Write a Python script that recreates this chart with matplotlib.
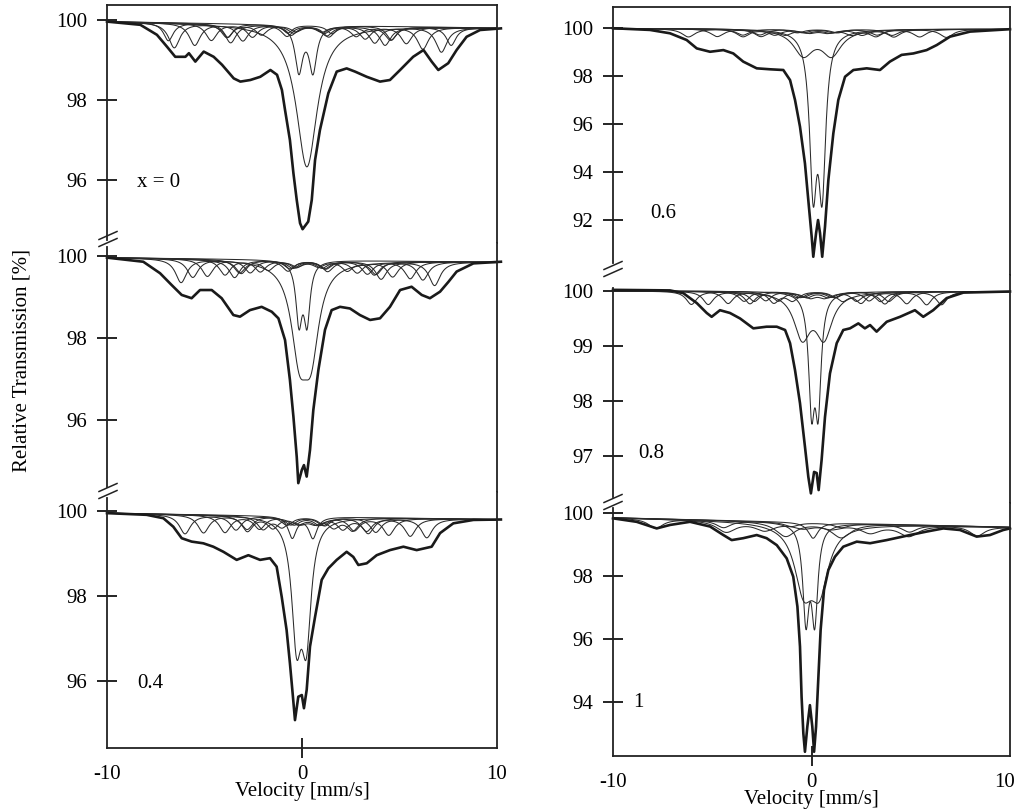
import numpy as np
import matplotlib
matplotlib.use("Agg")
import matplotlib.pyplot as plt
from matplotlib.lines import Line2D
from matplotlib.transforms import ScaledTranslation

plt.rcParams['font.family'] = ['Liberation Serif', 'DejaVu Serif']
plt.rcParams['font.size'] = 15

A_env_v = [-10, -8.29, -7.44, -6.92, -6.5, -5.98, -5.8, -5.47, -5.04, -4.53, -4.1, -3.5, -3.16,
           -2.65, -2.14, -1.62, -1.28, -1.03, -0.87, -0.62, -0.44, -0.27, -0.1, 0.03, 0.32, 0.5,
           0.67, 0.92, 1.35, 1.78, 2.29, 2.72, 3.32, 4.0, 4.51, 5.03, 5.7, 6.23, 6.65, 6.99, 7.5,
           7.93, 8.44, 9.13, 10.2]
A_env_t = [99.96, 99.88, 99.63, 99.33, 99.08, 99.08, 99.17, 98.96, 99.21, 99.08, 98.88, 98.54,
           98.46, 98.5, 98.58, 98.75, 98.63, 98.25, 97.75, 97.0, 96.17, 95.5, 94.92, 94.77, 94.96,
           95.5, 96.5, 97.25, 98.17, 98.71, 98.79, 98.71, 98.58, 98.46, 98.5, 98.75, 99.08, 99.25,
           98.96, 98.75, 98.92, 99.25, 99.58, 99.75, 99.79]

B_env_v = [-10, -8.14, -7.28, -6.68, -6.17, -5.66, -5.23, -4.63, -4.12, -3.52, -3.18, -2.67, -2.07,
           -1.55, -1.21, -0.87, -0.62, -0.44, -0.27, -0.19, -0.01, 0.1, 0.24, 0.41, 0.58, 0.84,
           1.18, 1.52, 1.95, 2.46, 2.97, 3.49, 4.0, 4.51, 5.03, 5.62, 6.14, 6.56, 7.08, 7.51, 7.93,
           8.79, 10.2]
B_env_t = [99.96, 99.86, 99.58, 99.29, 99.05, 98.97, 99.17, 99.17, 98.97, 98.56, 98.52, 98.68,
           98.76, 98.64, 98.48, 97.95, 96.98, 96.08, 95.1, 94.46, 94.78, 94.9, 94.62, 95.27, 96.24,
           97.22, 98.2, 98.68, 98.76, 98.72, 98.56, 98.44, 98.48, 98.76, 99.17, 99.25, 99.05,
           98.97, 99.13, 99.37, 99.62, 99.82, 99.86]

C_env_v = [-10, -7.97, -7.11, -6.6, -6.17, -5.66, -5.06, -4.55, -4.03, -3.35, -2.75, -2.15, -1.64,
           -1.3, -1.04, -0.79, -0.62, -0.48, -0.36, -0.19, -0.01, 0.1, 0.24, 0.41, 0.67, 1.01, 1.35,
           1.78, 2.29, 2.63, 2.89, 3.32, 3.83, 4.51, 5.2, 5.88, 6.65, 7.08, 7.76, 8.79, 10.2]
C_env_t = [99.95, 99.91, 99.83, 99.63, 99.36, 99.28, 99.24, 99.16, 99.04, 98.85, 98.96, 98.85,
           98.89, 98.69, 97.98, 97.2, 96.42, 95.71, 95.08, 95.63, 95.67, 95.36, 95.79, 96.81,
           97.51, 98.38, 98.65, 98.85, 99.04, 98.92, 98.73, 98.77, 98.96, 99.08, 99.16, 99.08,
           99.16, 99.48, 99.71, 99.79, 99.8]

D_env_v = [-10, -8.14, -7.13, -6.29, -5.78, -5.11, -4.44, -3.94, -3.44, -2.76, -2.09, -1.42, -1.08,
           -0.83, -0.58, -0.33, -0.13, 0.01, 0.09, 0.23, 0.33, 0.43, 0.54, 0.68, 0.85, 1.1, 1.35,
           1.69, 2.11, 2.78, 3.45, 3.95, 4.54, 5.13, 5.8, 6.31, 6.98, 7.99, 10.0]
D_env_t = [99.99, 99.92, 99.78, 99.5, 99.15, 99.01, 99.08, 98.94, 98.6, 98.32, 98.28, 98.25, 97.83,
           97.0, 95.89, 94.36, 92.55, 91.3, 90.47, 91.45, 92.0, 91.45, 90.47, 91.72, 93.67, 95.61,
           97.0, 97.97, 98.25, 98.32, 98.25, 98.6, 98.88, 98.94, 99.08, 99.29, 99.64, 99.85, 99.95]

E_env_v = [-10, -7.13, -6.46, -5.78, -5.28, -5.03, -4.61, -4.11, -3.6, -2.93, -2.26, -1.75, -1.33,
           -1.08, -0.83, -0.58, -0.33, -0.16, -0.03, 0.13, 0.26, 0.36, 0.51, 0.68, 0.93, 1.27, 1.6,
           1.94, 2.36, 2.69, 2.95, 3.28, 3.79, 4.46, 5.21, 5.63, 6.13, 6.81, 7.65, 10.0]
E_env_t = [100.02, 100.01, 99.96, 99.78, 99.6, 99.53, 99.65, 99.6, 99.5, 99.32, 99.35, 99.35, 99.29,
           99.05, 98.56, 97.96, 97.17, 96.62, 96.32, 96.71, 96.69, 96.38, 96.93, 97.71, 98.5,
           99.05, 99.29, 99.32, 99.41, 99.32, 99.38, 99.26, 99.44, 99.53, 99.65, 99.53, 99.65,
           99.87, 99.97, 99.99]

F_env_v = [-10, -8.81, -7.8, -7.13, -6.12, -5.11, -4.44, -4.02, -3.44, -2.76, -2.26, -1.75, -1.25,
           -0.92, -0.71, -0.58, -0.5, -0.41, -0.33, -0.21, -0.08, 0.04, 0.13, 0.23, 0.34, 0.46,
           0.63, 0.85, 1.18, 1.6, 2.28, 2.95, 3.79, 4.96, 5.8, 6.64, 7.48, 8.32, 8.99, 9.66, 10.0]
F_env_t = [99.83, 99.72, 99.51, 99.62, 99.72, 99.57, 99.3, 99.14, 99.2, 99.3, 99.2, 98.98, 98.56,
           97.98, 97.03, 95.76, 94.17, 93.0, 92.42, 93.22, 93.9, 93.22, 92.42, 93.22, 94.7, 96.29,
           97.56, 98.19, 98.61, 98.93, 99.09, 99.04, 99.14, 99.3, 99.41, 99.51, 99.46, 99.25,
           99.3, 99.46, 99.51]

# ---- fitted sub-spectra: baseline (at -10, +10), singlets (centre, depth, width),
#      doublets (centre, splitting, depth, width), sextets (shift, half split, depth, width)
A_base = [99.96, 99.80]
A_singlets = [(0.25, 3.55, 1.3)]
A_doublets = [(0.20, 0.72, 1.14, 0.47)]
A_sextets = [(0.30, 6.85, 0.62, 0.7), (0.35, 5.85, 0.55, 0.7), (0.35, 5.00, 0.42, 0.7),
             (0.35, 4.20, 0.34, 0.7), (0.40, 7.25, 0.45, 0.6)]

B_base = [99.96, 99.85]
B_singlets = []
B_doublets = [(0.16, 0.60, 1.99, 1.0), (0.05, 0.41, 1.45, 0.38)]
B_sextets = [(0.30, 6.5, 0.58, 0.7), (0.30, 5.9, 0.45, 0.7), (0.35, 5.2, 0.42, 0.7),
             (0.35, 4.3, 0.38, 0.7), (0.30, 3.5, 0.32, 0.7)]

C_base = [99.95, 99.80]
C_singlets = []
C_doublets = [(-0.03, 0.50, 2.65, 0.6), (0.03, 1.06, 0.50, 0.5)]
C_sextets = [(0.20, 6.2, 0.45, 0.7), (0.25, 5.3, 0.42, 0.7), (0.25, 4.2, 0.40, 0.7),
             (0.30, 3.1, 0.36, 0.7), (0.30, 2.3, 0.30, 0.7)]

D_base = [99.98, 99.95]
D_singlets = []
D_doublets = [(0.31, 0.45, 6.2, 0.44), (0.30, 1.43, 1.04, 1.2)]
D_sextets = [(0.30, 6.5, 0.34, 0.8), (0.35, 5.1, 0.32, 0.8), (0.35, 3.8, 0.32, 0.8),
             (0.35, 2.9, 0.30, 0.8)]

E_base = [100.0, 99.99]
E_singlets = []
E_doublets = [(0.17, 0.33, 1.95, 0.36), (0.08, 1.10, 0.79, 1.0)]
E_sextets = [(0.25, 6.3, 0.24, 0.65), (0.30, 5.5, 0.24, 0.65), (0.30, 4.5, 0.22, 0.65),
             (0.30, 3.4, 0.22, 0.65), (0.30, 2.2, 0.20, 0.65)]

F_base = [99.85, 99.55]
F_singlets = [(0.08, 0.5, 0.6)]
F_doublets = [(-0.06, 0.44, 2.94, 0.38), (0.0, 0.80, 1.9, 1.1), (0.10, 2.8, 0.45, 1.2)]
F_sextets = [(0.30, 4.6, 0.35, 1.2), (0.25, 8.1, 0.30, 0.9)]

SEXTET_POS = [-1, -0.578, -0.156, 0.156, 0.578, 1]
SEXTET_REL = [1, 0.75, 0.45, 0.45, 0.75, 1]

# panel: envelope, components, label, rect in px (left, top, right, bottom), ylim, yticks,
#        label position, left spine bounds, position in column
panels = [
    (A_env_v, A_env_t, A_base, A_singlets, A_doublets, A_sextets, "x = 0",
     (107, 5, 497, 243), (94.425, 100.375), [96, 98, 100], (-8.46, 95.93), (94.5, None), 'top'),
    (B_env_v, B_env_t, B_base, B_singlets, B_doublets, B_sextets, "",
     (107, 243, 497, 492), (94.244, 100.317), [96, 98, 100], None, (94.37, 100.22), 'mid'),
    (C_env_v, C_env_t, C_base, C_singlets, C_doublets, C_sextets, "0.4",
     (107, 492, 497, 748), (94.424, 100.447), [96, 98, 100], (-8.46, 95.95), (None, 100.31), 'bot'),
    (D_env_v, D_env_t, D_base, D_singlets, D_doublets, D_sextets, "0.6",
     (613, 7, 1010, 275), (89.71, 100.875), [92, 94, 96, 98, 100], (-8.14, 92.29), (90.21, None), 'top'),
    (E_env_v, E_env_t, E_base, E_singlets, E_doublets, E_sextets, "0.8",
     (613, 275, 1010, 503), (96.145, 100.29), [97, 98, 99, 100], (-8.74, 97.05), (96.25, 100.05), 'mid'),
    (F_env_v, F_env_t, F_base, F_singlets, F_doublets, F_sextets, "1",
     (613, 503, 1010, 756), (92.286, 100.317), [94, 96, 98, 100], (-8.99, 94.0), (None, 100.16), 'bot'),
]

W, H = 1018, 810
fig = plt.figure(figsize=(W / 100, H / 100), dpi=100)
ink = '#1a1a1a'


def lor(v, c, w):
    return 1.0 / (1.0 + ((v - c) / (w / 2.0)) ** 2)


v = np.linspace(-10, 10, 1601)

for (env_v, env_t, base, singlets, doublets, sextets, label, rect, ylim, yticks,
     lab_pos, sb, kind) in panels:
    l, t, r, b = rect
    ax = fig.add_axes([l / W, 1 - b / H, (r - l) / W, (b - t) / H])
    baseline = base[0] + (base[1] - base[0]) * (v + 10) / 20.0

    comps = []
    for c, d, w in singlets:
        comps.append(d * lor(v, c, w))
    for c, s, d, w in doublets:
        comps.append(d * (lor(v, c - s / 2, w) + lor(v, c + s / 2, w)))
    for cs, s, d, w in sextets:
        comps.append(sum(d * k * lor(v, cs + p * s, w) for p, k in zip(SEXTET_POS, SEXTET_REL)))
    for comp in comps:
        ax.plot(v, baseline - comp, color='#2a2a2a', lw=0.75)

    ax.plot(env_v, env_t, color=ink, lw=1.9, clip_on=False, solid_joinstyle='round')

    ax.set_xlim(-10, 10)
    ax.set_ylim(*ylim)
    ax.set_yticks(yticks)
    ax.tick_params(axis='y', direction='inout', length=14, width=1.2, pad=7)

    for side in ['top', 'bottom', 'left', 'right']:
        ax.spines[side].set_linewidth(1.3)
        ax.spines[side].set_color('#222222')
    ax.spines['top'].set_visible(kind == 'top')
    ax.spines['bottom'].set_visible(kind == 'bot')
    lo = sb[0] if sb[0] is not None else ylim[0]
    hi = sb[1] if sb[1] is not None else ylim[1]
    ax.spines['left'].set_bounds(lo, hi)

    if kind == 'bot':
        ax.set_xticks([-10, 0, 10])
        ax.set_xticklabels(['-10', '0', '10'])
        ax.tick_params(axis='x', direction='inout', length=14, width=1.2, pad=5)
        ticks = ax.xaxis.get_major_ticks()
        for tk in (ticks[0], ticks[2]):
            tk.tick1line.set_visible(False)
        if l > 500:
            lab10 = ax.get_xticklabels()[2]
            lab10.set_transform(lab10.get_transform() + ScaledTranslation(-0.05, 0, fig.dpi_scale_trans))
        ax.set_xlabel('Velocity [mm/s]', labelpad=-1)
    else:
        ax.set_xticks([])

    if lab_pos is not None:
        ax.text(lab_pos[0], lab_pos[1], label, ha='left', va='center', fontsize=15)


def brk(cx, cy):
    for dy in (-3.5, 3.5):
        fig.add_artist(Line2D([(cx - 9) / W, (cx + 9) / W],
                              [1 - (cy + dy + 4) / H, 1 - (cy + dy - 4) / H],
                              color='#222222', lw=1.1))


for cx, cy in [(108, 239), (108, 491), (613, 269), (613, 502)]:
    brk(cx, cy)

fig.text(22 / W, 1 - 360 / H, 'Relative Transmission [%]', rotation=90,
         ha='center', va='center', fontsize=15)

fig.savefig('out.png', dpi=100, facecolor='white')
